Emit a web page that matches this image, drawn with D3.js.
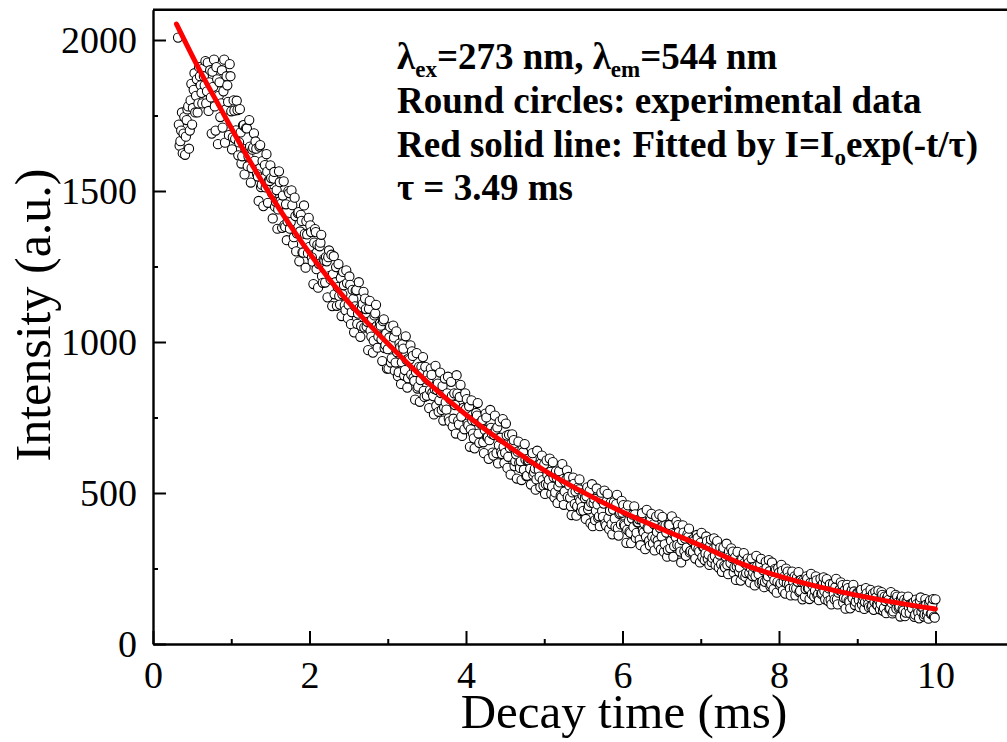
<!DOCTYPE html>
<html><head><meta charset="utf-8">
<script src="https://cdn.jsdelivr.net/npm/d3@7"></script>
<style>body{margin:0;background:#fff}svg{display:block}</style>
</head><body>
<svg id="chart" width="1007" height="742"></svg>
<script>
// ---- data ----
const timeStart = 0.32;   // ms, first sample
const timeStep = 0.01;    // ms, sampling interval
const intensity = [
2008,1720,1650,1665,1700,1760,1625,1690,1745,1620,1680,1735,1770,1780,1640,1700,1800,1855,1720,1775,1835,1890,1760,1815,1870,1760,1790,1910,1880,1850,1825,1790,1905,1880,1850,1930,1790,1830,1925,1765,1860,1900,1810,1690,1895,1845,1935,1780,1700,1910,1870,1655,1815,1860,1745,1790,1900,1710,1830,1935,1660,1770,1880,1850,1795,1685,1920,1880,
1764,1638,1678,1800,1766,1673,1701,1799,1768,1618, 1661,1771,1694,1591,1615,1717,1718,1555,1639,1708,
1707,1582,1614,1735,1647,1528,1576,1637,1644,1691, 1600,1664,1640,1556,1548,1467,1647,1652,1513,1521,
1599,1450,1542,1586,1512,1622,1564,1461,1534,1533, 1585,1543,1493,1409,1541,1563,1448,1464,1503,1375,
1439,1565,1529,1467,1458,1378,1485,1532,1387,1381, 1456,1337,1399,1500,1493,1375,1397,1502,1453,1324,
1347,1478,1417,1300,1360,1427,1430,1267,1366,1421, 1401,1297,1296,1452,1358,1246,1400,1356,1294,1411,
1315,1386,1364,1280,1266,1192,1329,1374,1364,1241, 1322,1180,1259,1317,1329,1355,1218,1196,1274,1270,
1197,1281,1267,1148,1281,1303,1219,1207,1289,1119, 1224,1284,1158,1198,1248,1120,1182,1258,1152,1124,
1212,1086,1158,1232,1188,1122,1105,1237,1195,1079, 1123,1217,1189,1059,1099,1173,1142,1032,1118,1170,
1172,1060,1094,1198,1113,1017,1053,1115,1126,1166, 1048,1144,1109,1051,1067,973,1110,1136,1038,1018,
1075,965,1004,1088,1095,1123,1053,981,1018,1048, 1062,1054,1009,937,1069,1075,980,990,1028,912,
976,912,1015,1050,932,946,993,1054,1015,905, 932,1035,966,887,900,995,983,861,933,992,
978,889,907,1019,941,849,880,946,942,989, 892,969,954,881,871,809,901,963,846,852,
918,802,874,918,897,950,838,818,918,881, 822,891,873,781,841,912,891,832,821,760,
844,921,789,841,862,769,807,899,831,775, 854,740,783,879,800,776,830,885,747,737,
810,868,822,721,746,830,791,697,890,829, 739,727,818,858,753,689,781,782,711,830,
779,811,730,724,787,653,711,807,741,697, 681,648,738,765,756,798,697,666,732,730,
733,741,668,632,709,763,750,685,685,613, 675,775,716,696,634,624,692,756,710,632,
717,598,658,737,683,636,629,745,653,599, 633,730,690,583,620,693,650,561,663,694,
652,675,589,605,628,548,637,670,600,583, 605,543,643,635,577,662,611,556,557,607,
608,615,580,528,613,632,560,569,581,511, 545,640,592,577,554,519,598,624,543,524,
595,497,529,608,559,527,544,614,570,497, 521,602,552,485,502,572,550,467,522,572,
535,491,486,596,546,461,505,536,544,575, 487,553,525,484,456,427,502,551,530,464,
505,425,456,518,512,545,474,441,453,492, 441,501,483,414,489,519,446,457,507,400,
468,529,390,466,481,410,441,515,462,417, 423,390,479,501,440,421,465,508,399,392,
473,497,416,380,441,468,397,363,445,469, 415,388,463,494,383,359,431,435,396,474,
435,460,396,392,439,335,378,459,407,372, 368,334,416,428,387,456,429,351,368,403,
403,413,346,327,412,433,377,370,398,314, 355,444,385,382,342,326,412,431,355,333,
397,310,350,422,371,342,327,429,384,313, 356,421,391,305,330,393,369,289,312,395,
394,317,342,423,367,289,324,365,354,405, 328,394,371,326,306,270,344,393,369,307,
349,292,319,363,355,382,303,308,343,341, 305,348,342,283,321,361,351,314,306,270,
336,368,288,321,321,278,300,356,341,282, 296,262,326,346,271,285,314,350,291,262,
324,341,276,253,296,319,264,239,305,319, 259,253,289,332,262,231,306,288,268,317,
284,306,236,254,287,212,257,305,269,239, 253,210,283,281,228,301,269,223,235,262,
283,269,235,204,251,283,225,237,255,194, 224,292,258,245,231,202,265,282,203,208,
244,188,206,272,251,212,224,278,241,191, 197,270,230,182,211,249,245,170,205,251,
236,195,201,262,242,177,207,224,167,250, 201,240,221,198,183,161,221,240,207,185,
224,161,184,221,206,238,172,176,212,205, 148,211,204,157,182,224,216,184,185,149,
202,232,165,193,205,157,177,224,211,161, 165,145,188,216,166,169,200,221,175,148,
201,215,164,142,184,198,146,131,184,199, 165,148,188,216,148,131,170,178,181,204,
174,195,137,153,178,117,150,196,185,142, 139,118,171,178,152,196,174,129,140,163,
169,168,146,122,177,179,130,146,156,116, 139,185,168,152,132,122,155,179,122,127,
167,113,139,173,154,130,128,177,144,115, 132,172,163,110,119,157,142,102,152,158,
146,116,118,172,136,101,108,142,150,163, 117,157,138,120,124,91,150,157,116,111,
146,92,104,142,139,157,122,103,132,130, 118,136,138,90,97,147,132,115,104,85,
143,154,107,121,122,91,98,149,130,97, 108,84,137,144,100,101,130,149,91,87,
148
];
const fitTime = [0.3,0.6,0.9,1.2,1.5,1.8,2.1,2.4,2.7,3.0,3.5,4.0,4.5,5.0,5.5,6.0,6.5,7.0,7.5,8.0,8.5,9.0,9.5,10.0];
const fitIntensity = [2053,1898,1756,1616,1487,1368,1259,1161,1075,995,869,759,663,575,502,437,381,326,268,225,190,161,137,116];
const xTicks = [0,2,4,6,8,10];
const xMinorTicks = [1,3,5,7,9];
const yTicks = [0,500,1000,1500,2000];
const yMinorTicks = [250,750,1250,1750];
const xTitle = "Decay time (ms)";
const yTitle = "Intensity (a.u.)";

// ---- drawing ----
const svg = d3.select("#chart");
const serif = "'Liberation Serif','Times New Roman',Times,serif";
const x = d3.scaleLinear().domain([0, 11]).range([153, 1013.75]);
const y = d3.scaleLinear().domain([0, 2100]).range([644, 9.8]);

const points = intensity.map((v, i) => ({t: timeStart + i * timeStep, v}));
const fit = fitTime.map((t, i) => ({t, v: fitIntensity[i]}));

svg.append("g").selectAll("circle").data(points).join("circle")
  .attr("cx", d => x(d.t)).attr("cy", d => y(d.v)).attr("r", 4.6)
  .attr("fill", "#fff").attr("stroke", "#000").attr("stroke-width", 1.05);

svg.append("path").datum(fit)
  .attr("d", d3.line().x(d => x(d.t)).y(d => y(d.v)).curve(d3.curveMonotoneX))
  .attr("fill", "none").attr("stroke", "#ff0000").attr("stroke-width", 5).attr("stroke-linecap", "round");

// frame
svg.append("path").attr("d", `M${x(0)},${y(2100)}H${x(11)}V${y(0)}`)
  .attr("fill", "none").attr("stroke", "#000").attr("stroke-width", 2.4);

function styleAxis(g) {
  g.select(".domain").attr("stroke-width", 2.4);
  g.selectAll(".tick line").attr("stroke-width", 2);
  g.selectAll("text").attr("font-family", serif).attr("font-size", 38).attr("fill", "#000");
}
const xAxis = svg.append("g").attr("transform", `translate(0,${y(0)})`)
  .call(d3.axisBottom(x).tickValues(xTicks).tickSizeInner(-13).tickSizeOuter(0).tickPadding(17).tickFormat(d3.format("d")));
styleAxis(xAxis);
svg.append("g").attr("transform", `translate(0,${y(0)})`)
  .call(d3.axisBottom(x).tickValues(xMinorTicks).tickSize(-5).tickFormat(""))
  .call(g => { g.select(".domain").remove(); g.selectAll(".tick line").attr("stroke-width", 2); });

const yAxis = svg.append("g").attr("transform", `translate(${x(0)},0)`)
  .call(d3.axisLeft(y).tickValues(yTicks).tickSizeInner(-13).tickSizeOuter(0).tickPadding(16).tickFormat(d3.format("d")));
styleAxis(yAxis);
svg.append("g").attr("transform", `translate(${x(0)},0)`)
  .call(d3.axisLeft(y).tickValues(yMinorTicks).tickSize(-5).tickFormat(""))
  .call(g => { g.select(".domain").remove(); g.selectAll(".tick line").attr("stroke-width", 2); });

// axis titles
svg.append("text").attr("x", 624).attr("y", 728).attr("text-anchor", "middle")
  .attr("font-family", serif).attr("font-size", 49).text(xTitle);
svg.append("text").attr("transform", "translate(50,315) rotate(-90)").attr("text-anchor", "middle")
  .attr("font-family", serif).attr("font-size", 50).text(yTitle);

// annotation
const ann = svg.append("g").attr("font-family", serif).attr("font-weight", "bold").attr("font-size", 37);
const l1 = ann.append("text").attr("x", 397).attr("y", 69);
l1.append("tspan").text("λ");
l1.append("tspan").attr("font-size", 23).attr("dy", 8).text("ex");
l1.append("tspan").attr("dy", -8).text("=273 nm, λ");
l1.append("tspan").attr("font-size", 23).attr("dy", 8).text("em");
l1.append("tspan").attr("dy", -8).text("=544 nm");
ann.append("text").attr("x", 397).attr("y", 113).text("Round circles: experimental data");
const l3 = ann.append("text").attr("x", 397).attr("y", 157);
l3.append("tspan").text("Red solid line: Fitted by I=I");
l3.append("tspan").attr("font-size", 23).attr("dy", 8).text("o");
l3.append("tspan").attr("dy", -8).text("exp(-t/τ)");
ann.append("text").attr("x", 397).attr("y", 200).text("τ = 3.49 ms");
</script>
</body></html>
